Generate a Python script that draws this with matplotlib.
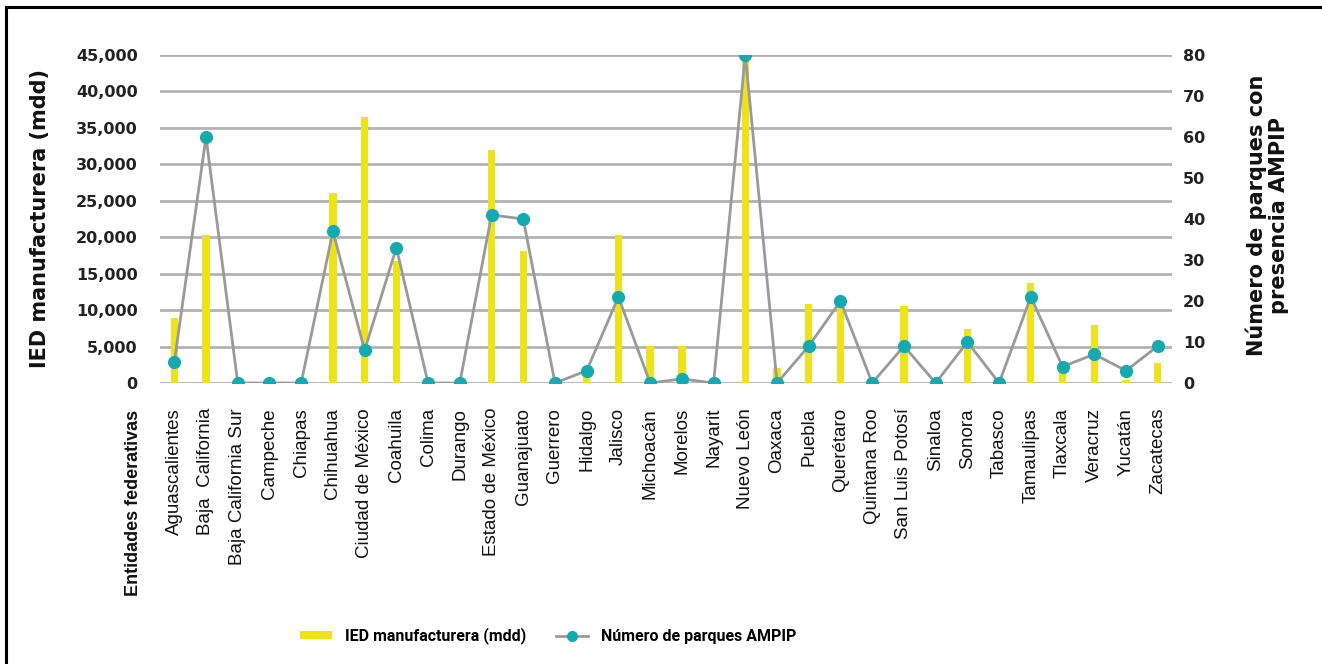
import matplotlib
matplotlib.use("Agg")
import matplotlib.pyplot as plt
from matplotlib.lines import Line2D
from matplotlib.patches import Patch
from matplotlib.ticker import FuncFormatter, MultipleLocator
import numpy as np

estados = ["Aguascalientes", "Baja  California", "Baja California Sur", "Campeche", "Chiapas",
           "Chihuahua", "Ciudad de México", "Coahuila", "Colima", "Durango",
           "Estado de México", "Guanajuato", "Guerrero", "Hidalgo", "Jalisco",
           "Michoacán", "Morelos", "Nayarit", "Nuevo León", "Oaxaca",
           "Puebla", "Querétaro", "Quintana Roo", "San Luis Potosí", "Sinaloa",
           "Sonora", "Tabasco", "Tamaulipas", "Tlaxcala", "Veracruz",
           "Yucatán", "Zacatecas"]
ied = [8900, 20300, 0, 0, 0,
       26000, 36500, 16800, 0, 0,
       31900, 18100, 0, 900, 20300,
       5100, 5100, 0, 44500, 2000,
       10900, 10500, 0, 10500, 0,
       7400, 0, 13700, 1600, 8000,
       400, 2800]
parques = [5, 60, 0, 0, 0,
           37, 8, 33, 0, 0,
           41, 40, 0, 3, 21,
           0, 1, 0, 80, 0,
           9, 20, 0, 9, 0,
           10, 0, 21, 4, 7,
           3, 9]

W, H = 1322, 664
fig = plt.figure(figsize=(W / 100, H / 100), dpi=100)
ax = fig.add_axes([160 / W, 1 - 383 / H, (1172 - 160) / W, (383 - 55) / H])
ax2 = ax.twinx()

x = np.arange(len(estados))
ax.bar(x, ied, width=0.23, color="#EEE31A", zorder=2)
ax.set_ylim(0, 45000)
ax.set_xlim(-0.45, len(estados) - 0.55)
ax.yaxis.set_major_locator(MultipleLocator(5000))
ax.yaxis.set_major_formatter(FuncFormatter(lambda v, p: f"{int(v):,}"))
ax.grid(axis="y", color="#B3B3B3", linewidth=2, zorder=0)
ax.set_axisbelow(True)
for s in ax.spines.values():
    s.set_visible(False)
for s in ax2.spines.values():
    s.set_visible(False)
ax.tick_params(axis="y", length=0, pad=16, labelsize=11.5, labelcolor="#222222")
ax.tick_params(axis="x", length=0, pad=18)
for lab in ax.get_yticklabels():
    lab.set_fontweight("semibold")
ax.set_xticks(x)
ax.set_xticklabels(estados, rotation=90, fontsize=13.5, family="Liberation Sans", color="#111111",
                   va="top", ha="center")

ax2.plot(x, parques, color="#9A9A9A", linewidth=2, marker="o", markersize=8.5,
         markerfacecolor="#16AAB0", markeredgecolor="#16AAB0", zorder=3)
ax2.set_ylim(0, 80)
ax2.set_yticks(range(0, 81, 10))
ax2.tick_params(axis="y", length=0, pad=8, labelsize=11.5, labelcolor="#222222")
for lab in ax2.get_yticklabels():
    lab.set_fontweight("semibold")

fig.text(40 / W, 1 - 219 / H, "IED manufacturera (mdd)", rotation=90, ha="center", va="center",
         fontsize=15, fontweight="bold", color="#111111")
fig.text(1267 / W, 1 - 215 / H, "Número de parques con\npresencia AMPIP", rotation=90,
         ha="center", va="center", fontsize=15, fontweight="bold", color="#111111",
         linespacing=1.15)
fig.text(133 / W, 1 - 410 / H, "Entidades federativas", rotation=90, ha="center", va="top",
         fontsize=13, fontweight="bold", family="Liberation Sans", color="#111111")

handles = [Patch(facecolor="#EEE31A", edgecolor="none"),
           Line2D([0], [0], color="#9A9A9A", linewidth=2, marker="o", markersize=7,
                  markerfacecolor="#16AAB0", markeredgecolor="#16AAB0")]
leg = fig.legend(handles, ["IED manufacturera (mdd)", "Número de parques AMPIP"],
                 loc="center", bbox_to_anchor=(548 / W, 1 - 636 / H), ncol=2, frameon=False,
                 prop={"size": 11.5, "weight": "bold", "family": "Roboto"},
                 handlelength=2.0, handleheight=0.35, columnspacing=1.9, handletextpad=0.8)

# figure border (left and top)
fig.add_artist(Line2D([6 / W, 6 / W], [0, 1 - 7 / H], color="black", linewidth=2.2,
                      transform=fig.transFigure))
fig.add_artist(Line2D([6 / W, 1], [1 - 7 / H, 1 - 7 / H], color="black", linewidth=2.2,
                      transform=fig.transFigure))

fig.savefig("out.png", dpi=100, facecolor="white")
